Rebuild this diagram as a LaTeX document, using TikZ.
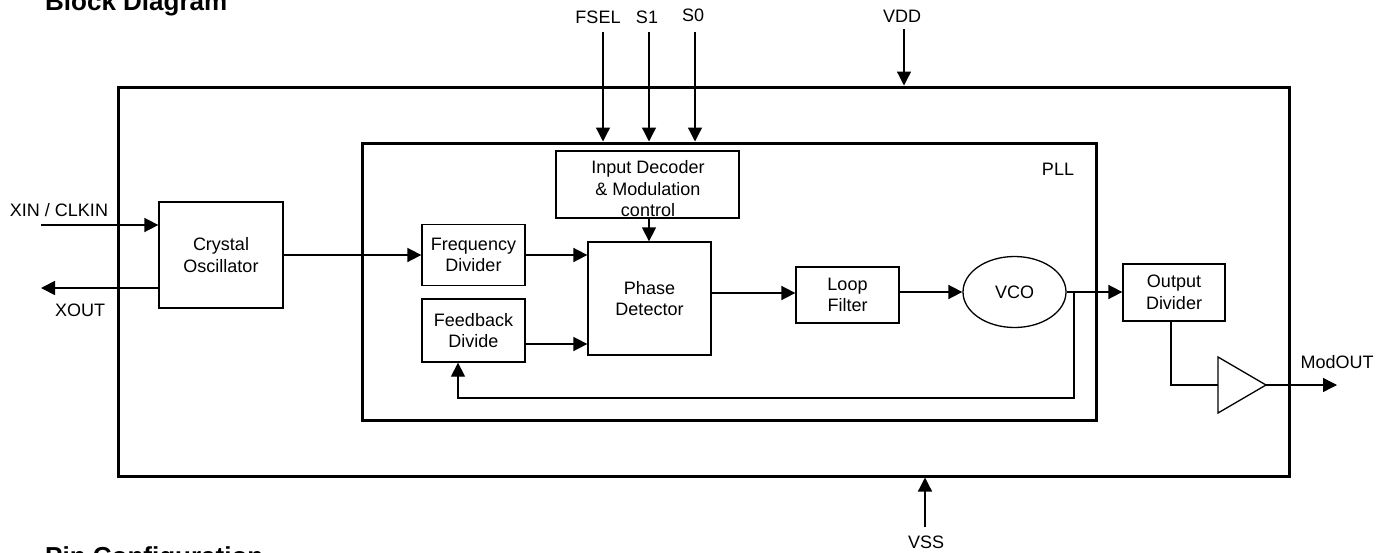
\documentclass[tikz,border=0pt]{standalone}
\usepackage{fontspec}
\setmainfont{Liberation Sans}
\usetikzlibrary{arrows.meta,shapes.geometric,calc}
\begin{document}
\begin{tikzpicture}[x=1pt,y=-1pt,
  every node/.style={font=\fontsize{18}{21.5}\selectfont},
  box/.style={draw,line width=1.3pt,inner sep=0pt,align=center},
  frame/.style={draw,line width=3pt,inner sep=0pt},
  arr/.style={line width=1.7pt,-{Triangle[length=14pt,width=14pt]}},
  arrthin/.style={line width=1.3pt,-{Triangle[length=14pt,width=14pt]}},
  wire/.style={line width=1.3pt},
  lbl/.style={inner sep=0pt,align=center},
  ttl/.style={inner sep=0pt,anchor=base west,font=\bfseries\fontsize{26}{30}\selectfont}]
\useasboundingbox (0,0) rectangle (1387,552);
\clip (0,0) rectangle (1387,552);
% titles
\node[ttl] (title) at (45,10) {Block Diagram};
\node[ttl] (pincfg) at (45,565) {Pin Configuration};
% frames
\node[frame,minimum width=1171pt,minimum height=389pt] (outer) at (703.5,281.5) {};
\node[frame,minimum width=734pt,minimum height=277pt] (pll) at (729,281.5) {};
\node[lbl] (plllbl) at (1058,169) {PLL};
% blocks
\node[box,minimum width=124pt,minimum height=106pt] (osc) at (221,255) {Crystal\\Oscillator};
\node[box,minimum width=103pt,minimum height=61pt] (fd) at (473.5,255) {Frequency\\Divider};
\node[box,minimum width=103pt,minimum height=63pt] (fb) at (473.5,330.5) {Feedback\\Divide};
\node[box,minimum width=123pt,minimum height=113pt] (pd) at (649.5,298.5) {Phase\\Detector};
\node[box,minimum width=183pt,minimum height=67pt] (dec) at (647.5,184.5) {};
\node[lbl] (dectxt) at (648,189) {Input Decoder\\\& Modulation\\control};
\node[box,minimum width=103pt,minimum height=56pt] (lf) at (847.5,295) {Loop\\Filter};
\node[box,ellipse,minimum width=103pt,minimum height=71pt] (vco) at (1014.5,292) {VCO};
\node[box,minimum width=102pt,minimum height=57pt] (od) at (1174,292.5) {Output\\Divider};
% buffer
\coordinate (bufin) at (1218,385);
\coordinate (bufout) at (1266,385);
\draw[line width=1.3pt,line join=miter] (1218,357) -- (1218,413) -- (bufout) -- cycle;
% labels
\node[lbl] (lfsel) at (598,17) {FSEL};
\node[lbl] (ls1) at (647,17) {S1};
\node[lbl] (ls0) at (693,15) {S0};
\node[lbl] (lvdd) at (902,16) {VDD};
\node[lbl] (lvss) at (926,542) {VSS};
\node[lbl] (lxin) at (59,210) {XIN / CLKIN};
\node[lbl] (lxout) at (80,310) {XOUT};
\node[lbl] (lmod) at (1337,362) {ModOUT};
% coordinates
\coordinate (xin) at (41,225);
\coordinate (xout) at (41,288);
\coordinate (fsel) at (603,32);
\coordinate (s1) at (649,32);
\coordinate (s0) at (695,32);
\coordinate (vdd) at (904,29);
\coordinate (vss) at (925,527);
\coordinate (tap) at (1074,292);
\coordinate (fbc) at (458,398);
\coordinate (odd) at (1171,385);
\coordinate (modout) at (1337,385);
% connectors
\draw[arr] (xin) -- (xin -| osc.west);
\draw[arr] (xout -| osc.west) -- (xout);
\draw[arr] (osc.east) -- (fd.west);
\draw[arr] (fd.east) -- (fd.east -| pd.west);
\draw[arr] (fb.east |- 0,344) -- (pd.west |- 0,344);
\draw[arr] (pd.east |- 0,293) -- (lf.west |- 0,293);
\draw[arr] (lf.east |- vco.west) -- (vco.west);
\draw[arr] (vco.east) -- (vco.east -| od.west);
\draw[arrthin] (dec.south -| 649,0) -- (pd.north -| 649,0);
\draw[arrthin] (tap) |- (fbc) -- (fbc |- fb.south);
\draw[wire] (od.south -| odd) -- (odd) -- (bufin);
\draw[arrthin] (bufout) -- (modout);
\draw[arrthin] (fsel) -- (fsel |- pll.north);
\draw[arrthin] (s1) -- (s1 |- pll.north);
\draw[arrthin] (s0) -- (s0 |- pll.north);
\draw[arrthin] (vdd) -- (vdd |- outer.north);
\draw[arrthin] (vss) -- (vss |- outer.south);
\end{tikzpicture}
\end{document}
